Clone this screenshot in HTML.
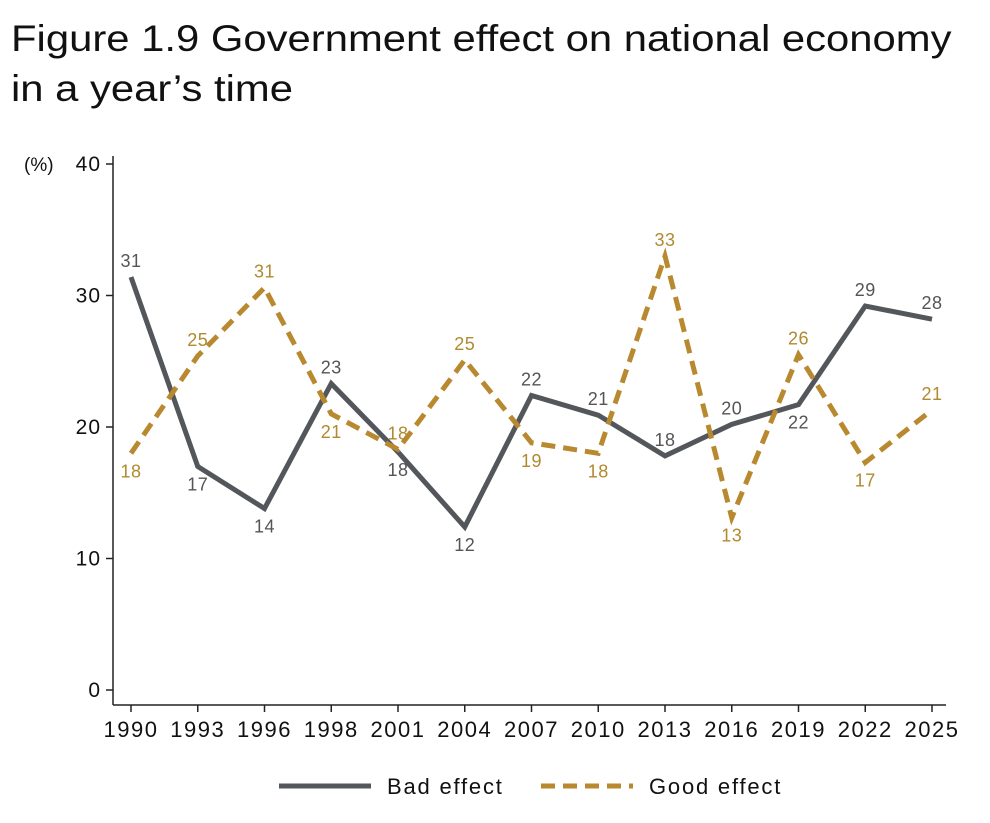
<!DOCTYPE html>
<html><head><meta charset="utf-8"><style>
body{margin:0;background:#fff;width:990px;height:823px;overflow:hidden;font-family:"Liberation Sans",sans-serif}
h1{position:absolute;left:11px;top:14px;margin:0;font-weight:normal;font-size:37px;line-height:50px;color:#111;transform:scaleX(1.13);transform-origin:0 0;white-space:nowrap}
</style></head><body>
<h1>Figure 1.9 Government effect on national economy<br>in a year’s time</h1>
<svg id="c" width="990" height="823" style="position:absolute;left:0;top:0"></svg>
<script>
const years=["1990","1993","1996","1998","2001","2004","2007","2010","2013","2016","2019","2022","2025"];
const badValues=[31.4,17.0,13.8,23.3,18.1,12.4,22.4,20.9,17.8,20.2,21.7,29.2,28.2];
const goodValues=[18.0,25.4,30.6,21.0,18.3,25.1,18.8,18.0,33.0,13.1,25.5,17.3,21.3];
const badLabelSide=["a","b","b","a","b","b","a","a","a","a","b","a","a"];
const goodLabelSide=["b","a","a","b","a","a","b","b","a","b","a","b","a"];
const yTicks=[0,10,20,30,40];
const svg=document.getElementById('c');const NS="http://www.w3.org/2000/svg";
const x=i=>131+i*(932-131)/(years.length-1);
const y=v=>690-v*(690-164)/40;
function el(t,a,txt){const e=document.createElementNS(NS,t);for(const k in a)e.setAttribute(k,a[k]);if(txt!=null)e.textContent=txt;svg.appendChild(e);return e;}
let e=el('line',{x1:113,y1:156,x2:113,y2:705,stroke:'#222','stroke-width':1.5});


e=el('line',{x1:113,y1:705,x2:946,y2:705,stroke:'#222','stroke-width':1.5});


yTicks.forEach(v=>{
 el('line',{x1:106,y1:y(v),x2:113,y2:y(v),stroke:'#222','stroke-width':1.5});
 e=el('text',{x:101,y:y(v)+7,'text-anchor':'end','font-size':21,'letter-spacing':1,fill:'#111'},v);
 
 
});
e=el('text',{x:24,y:171,'font-size':19,fill:'#111'},'(%)');


years.forEach((yr,i)=>{
 el('line',{x1:x(i),y1:705,x2:x(i),y2:712,stroke:'#222','stroke-width':1.5});
 e=el('text',{x:x(i),y:737,'text-anchor':'middle','font-size':22,'letter-spacing':1.5,fill:'#111'},yr);
 
 
});
function series(vals,sides,color,dash,name,lc){
 e=el('polyline',{points:vals.map((v,i)=>x(i)+','+y(v)).join(' '),fill:'none',stroke:color,'stroke-width':5,'stroke-dasharray':dash,'stroke-linejoin':'miter'});
 
 
 vals.forEach((v,i)=>{
  const yy=sides[i]=='a'?y(v)-10:y(v)+24;
  e=el('text',{x:x(i),y:yy,'text-anchor':'middle','font-size':18,'letter-spacing':0.5,fill:lc},Math.round(v));
  
  
 });
}
series(badValues,badLabelSide,'#53565a','none','bad-effect','#555');
series(goodValues,goodLabelSide,'#b8892f','14 8','good-effect','#b08a2e');
e=el('line',{x1:279,y1:786,x2:371,y2:786,stroke:'#53565a','stroke-width':5});


e=el('text',{x:387,y:794,'font-size':22,'letter-spacing':1.8,fill:'#111'},'Bad effect');


e=el('line',{x1:541,y1:786,x2:633,y2:786,stroke:'#b8892f','stroke-width':5,'stroke-dasharray':'14 8'});


e=el('text',{x:649,y:794,'font-size':22,'letter-spacing':1.8,fill:'#111'},'Good effect');


</script>
</body></html>
